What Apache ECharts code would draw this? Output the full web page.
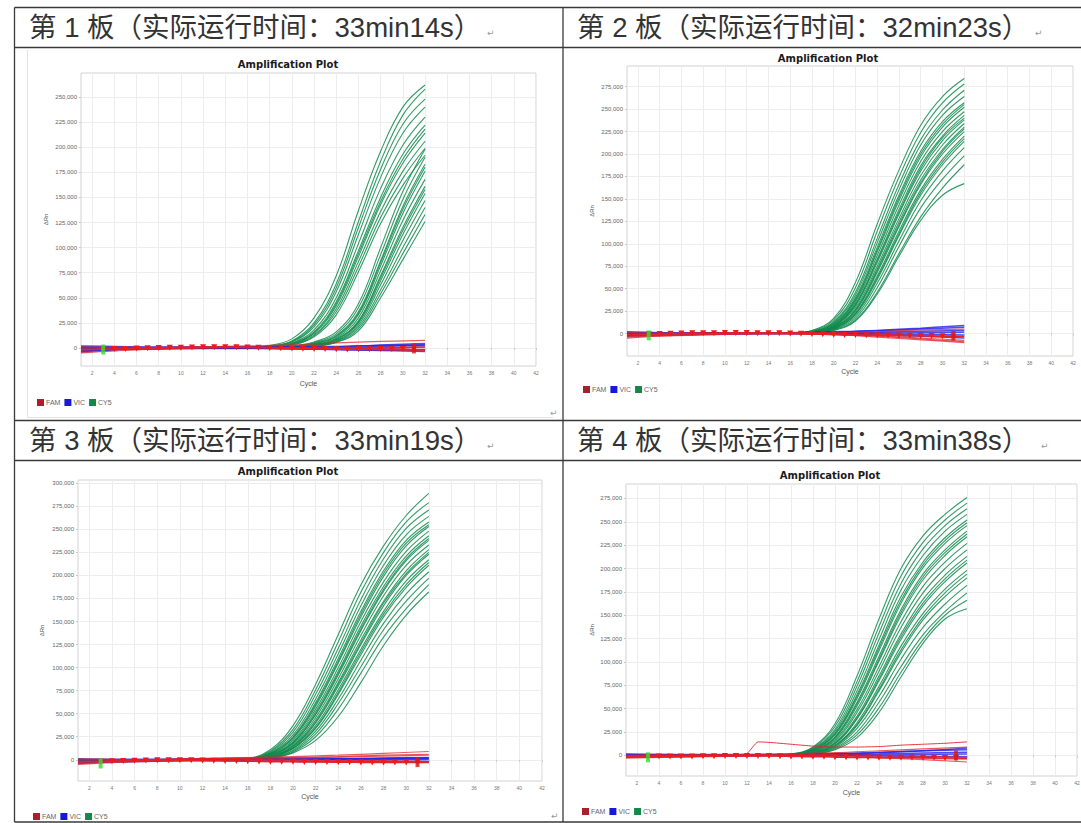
<!DOCTYPE html>
<html><head><meta charset="utf-8">
<script src="https://cdn.jsdelivr.net/npm/echarts@6/dist/echarts.min.js"></script>
<style>html,body{margin:0;padding:0;background:#fff}#c{width:1081px;height:823px}</style>
</head><body><div id="c"></div>
<script>
// ---------------- DATA (ΔRn values in thousands) ----------------
const HEADERS = ['第 1 板（实际运行时间：33min14s）', '第 2 板（实际运行时间：32min23s）', '第 3 板（实际运行时间：33min19s）', '第 4 板（实际运行时间：33min38s）'];
const PLOT_TITLE = 'Amplification Plot';
const X_NAME = 'Cycle';
const Y_NAME = 'ΔRn';
const LEGEND_NAMES = ['FAM', 'VIC', 'CY5'];
const X_TICKS = [2,4,6,8,10,12,14,16,18,20,22,24,26,28,30,32,34,36,38,40,42];
const Y_TICKS_250 = [0,25000,50000,75000,100000,125000,150000,175000,200000,225000,250000];
const Y_TICKS_275 = [0,25000,50000,75000,100000,125000,150000,175000,200000,225000,250000,275000];
const Y_TICKS_300 = [0,25000,50000,75000,100000,125000,150000,175000,200000,225000,250000,275000,300000];

const GREEN_CYCLES = [1,14,16,18,20,22,24,26,28,30,32];
const BASE_CYCLES = [1,4,8,12,16,20,24,28,32];
const MARK_CYCLES = [1,2,3,4,5,6,7,8,9,10,11,12,13,14,15,16,17,18,19,20,21,22,23,24,25,26,27,28,29,30,31,32];

// Plate 1 CY5 (early + late clusters)
const P1_CY5 = [
  [0,0,0.6,2.5,9,30,72,137,196,240,262],
  [0,0,0.5,2,7,25,64,126,186,232,258],
  [0,0,0.45,1.8,6.5,23,60,120,178,223,248],
  [0,0,0.4,1.6,6,21,56,113,170,214,240],
  [0,0,0.3,1.3,5,18,50,104,159,202,230],
  [0,0,0.3,1.2,4.5,16,46,97,150,193,222],
  [0,0,0.25,1.1,4.2,15,44,94,146,188,218],
  [0,0,0.2,1,4,14.5,42,91,143,184,214],
  [0,0,0.2,0.9,3.5,13,39,86,136,176,206],
  [0,0,0.2,0.8,3,12,36,81,130,169,199],
  [0,0,0.1,0.7,2.8,11,33,76,124,162,192],
  [0,0,0,0.5,2,6,16,44,100,156,198],
  [0,0,0,0.4,1.6,5.2,14,40,93,148,190],
  [0,0,0,0.35,1.3,4.5,12.5,36,87,141,183],
  [0,0,0,0.3,1.2,4.2,11.8,34.5,85,138,180],
  [0,0,0,0.3,1.1,4,11,33,82,134,176],
  [0,0,0,0.25,1,3.5,10,30,77,127,168],
  [0,0,0,0.2,0.8,3,9,27,72,120,161],
  [0,0,0,0.2,0.75,2.8,8.5,26,70,117,158],
  [0,0,0,0.2,0.7,2.7,8,25,67,113,154],
  [0,0,0,0.15,0.6,2.4,7.2,23,63,107,147],
  [0,0,0,0.1,0.5,2,6.5,21,58,100,140],
  [0,0,0,0.1,0.4,1.8,6,19,54,94,133],
  [0,0,0,0.1,0.4,1.6,5.5,17,50,88,126]
];
const P1_FAM = [
  [-2,-1,0,1,2,3,5,6.5,7.5],
  [-5,-3,-1,0,0.5,0,-1,-2,-3],
  [1,0.5,0.5,1,1,0.5,0,0.5,1],
  [-1,-1,-0.5,0,0.5,0,-0.5,-1,-2]
];
const P1_VIC = [
  [-3,-1.5,-0.5,0.5,1,0.5,0,1.5,3],
  [-1,-0.5,0,0.5,0.5,0.5,1,3,4.5],
  [1,0.5,0.5,0.5,0,-0.5,-0.5,0,1],
  [-2,-1,-0.5,0,0,-0.5,-1.5,-2.5,-3.5],
  [2,1.5,1,1,1,1,1.5,2.5,3],
  [-4,-2,-1,-0.5,-0.5,-1,-1.5,-2,-2]
];
const P1_MARK = [-1.5,-1.5,-1.2,-1,-1,-0.5,-0.3,0,0.2,0.3,0.5,0.6,0.8,0.8,0.6,0.4,0.2,0,-0.3,-0.6,-0.8,-1,-1.1,-1.2,-1.5,-1.3,-1.2,-1.1,-1,-1,-1.5,-1.5];
const P1_START = [3, -1.6];
const P1_END = [31, -0.5];

// Plate 2
const P2_CY5 = [
  [0,0,0.5,3.5,17,57,122,182,232,264,284],
  [0,0,0.5,3,15,51,114,174,224,257,278],
  [0,0,0.4,2.6,13,46,106,166,216,249,271],
  [0,0,0.4,2.3,12,43,101,160,210,243,264],
  [0,0,0.3,2.1,11,40,96,154,203,236,257],
  [0,0,0.3,2,10.5,38,93,151,200,233,255],
  [0,0,0.3,1.9,10,37,91,148,197,230,252],
  [0,0,0.3,1.7,9,35,87,143,192,225,247],
  [0,0,0.2,1.6,8.5,33,83,138,187,220,243],
  [0,0,0.2,1.5,8,32,81,135,184,218,240],
  [0,0,0.2,1.5,8,31,79,133,181,215,238],
  [0,0,0.2,1.4,7.5,29,75,128,176,210,234],
  [0,0,0.2,1.3,7,27,72,124,171,205,230],
  [0,0,0.2,1.2,6.8,26,70,121,168,203,228],
  [0,0,0.2,1.2,6.5,25,68,119,166,200,225],
  [0,0,0.1,1.1,6,23,64,114,160,194,220],
  [0,0,0.1,1,5.8,22,62,111,157,191,217],
  [0,0,0.1,1,5.5,21,60,109,154,188,214],
  [0,0,0.1,0.9,5,19,56,103,148,181,207],
  [0,0,0.1,0.8,4.5,17,51,97,140,172,198],
  [0,0,0.1,0.7,4,15,46,89,130,162,188],
  [0,0,0.1,0.6,3.5,14,44,86,126,154,167]
];
const P2_FAM = [
  [-4,-2.5,-1,0,0,-1,-3,-6,-9],
  [-3,-2,-1,0,0,-1,-2.5,-5,-7.5],
  [1,0.5,0.5,1,1,1,2,4,5],
  [-1,-1,0,0.5,1,0,-1,-2,-3],
  [-5,-3,-1.5,-0.5,0,-1,-4,-7,-10]
];
const P2_VIC = [
  [-2,-1,0,0.5,1,1.5,3,5,7],
  [0,0,0,0.5,1,2,3.5,6,9],
  [1,0.5,0.5,0.5,0.5,1,1.5,2.5,3.5],
  [-1,-0.5,0,0,0,0,0.5,1,1.5],
  [2,1,0.5,0.5,0.5,0,-0.5,-1,-1.5],
  [-3,-2,-1,-0.5,0,-0.5,-1.5,-3,-5]
];
const P2_MARK = [-1,-1,-0.8,-0.5,-0.3,0,0.2,0.3,0.4,0.5,0.5,0.5,0.4,0.3,0.2,0,-0.3,-0.6,-0.9,-1.2,-1.5,-1.7,-1.9,-2,-2.2,-2.3,-2.5,-2.6,-2.8,-3,-3.2,-3.4];
const P2_START = [3, -2];
const P2_END = [31, -2.5];

// Plate 3
const P3_CY5 = [
  [0,0,1.2,11,37,82,136,190,232,265,289],
  [0,0,1,9.5,33,76,128,182,225,258,279],
  [0,0,0.9,8.5,30,71,121,174,218,251,271],
  [0,0,0.8,7.5,27,66,115,167,211,244,264],
  [0,0,0.7,7,25,62,110,161,205,238,258],
  [0,0,0.7,6.8,24,60,107,158,202,235,255],
  [0,0,0.6,6.5,23,58,105,155,199,232,253],
  [0,0,0.6,6,21,55,100,150,193,226,248],
  [0,0,0.5,5.5,19.5,52,96,145,188,221,243],
  [0,0,0.5,5.2,18.5,50,94,142,185,218,240],
  [0,0,0.5,5,18,49,92,140,183,216,238],
  [0,0,0.4,4.5,17,46,88,135,178,211,233],
  [0,0,0.4,4,15.5,43,84,130,172,205,228],
  [0,0,0.4,3.8,14.8,41,82,127,170,202,225],
  [0,0,0.4,3.6,14,40,80,125,167,200,223],
  [0,0,0.3,3.2,13,37,76,120,161,194,217],
  [0,0,0.3,3,12.5,35,73,117,158,190,214],
  [0,0,0.3,2.9,12,34,71,114,155,187,211],
  [0,0,0.3,2.6,10.5,31,66,108,148,180,204],
  [0,0,0.2,2.3,9.5,28,61,101,141,172,197],
  [0,0,0.2,2,8.5,25,55,94,133,164,190],
  [0,0,0.2,1.8,7.5,21,47,84,124,157,182]
];
const P3_FAM = [
  [-4,-2,0,1.5,2.5,3.5,5,7,9],
  [-2,-1,0,1,2,2.5,3.5,5,6],
  [0,0,0.5,1,1.5,2,3,4,5],
  [-5,-3,-1.5,-0.5,0,0,-0.5,-1,-2],
  [1,0.5,0,0,0,-0.5,-1,-1.5,-2]
];
const P3_VIC = [
  [-2,-1,0,1,1.5,1.5,1.5,2,2.5],
  [-3,-2,-1,0,0.5,0.5,0.5,1,1.5],
  [0,0,0,0.5,0.5,0,0,0,0],
  [1,0.5,0.5,0.5,0.5,0.5,1,1.5,2],
  [-4,-2.5,-1.5,-1,-1,-1.5,-2,-2,-2]
];
const P3_MARK = [-2.5,-2.2,-2,-1.5,-1.2,-1,-0.8,-0.5,-0.5,-0.5,-0.6,-0.8,-1,-1.2,-1.4,-1.6,-1.8,-2,-2,-2.2,-2.3,-2.4,-2.5,-2.6,-2.7,-2.8,-2.9,-3,-3,-3,-3,-3];
const P3_START = [3, -4];
const P3_END = [31, -2.5];

// Plate 4
const P4_CY5 = [
  [0,0,1.5,9,34,85,146,200,235,258,276],
  [0,0,1.3,8.2,31,79,138,192,228,252,270],
  [0,0,1.1,7.5,28,74,131,184,221,246,264],
  [0,0,1,6.8,26,69,124,177,214,240,258],
  [0,0,0.9,6.2,24,65,118,170,207,233,252],
  [0,0,0.85,5.9,23,63,115,166,204,230,249],
  [0,0,0.8,5.6,22,61,112,163,201,227,246],
  [0,0,0.7,5,20,57,106,156,194,220,240],
  [0,0,0.65,4.7,19,55,103,153,191,217,237],
  [0,0,0.6,4.5,18.5,53,101,150,188,214,234],
  [0,0,0.6,4,17,49,95,143,181,207,227],
  [0,0,0.5,3.6,15.5,46,90,137,174,200,220],
  [0,0,0.5,3.2,14,42,85,130,167,193,213],
  [0,0,0.4,2.9,12.5,39,80,124,160,186,206],
  [0,0,0.45,3,13,40,82,127,163,189,209],
  [0,0,0.4,2.6,11,35,74,117,152,178,198],
  [0,0,0.35,2.4,10.5,33,71,113,148,174,194],
  [0,0,0.3,2.3,10,32,69,110,145,170,190],
  [0,0,0.3,2,9,29,63,103,137,162,182],
  [0,0,0.3,1.7,8,25,57,95,129,154,174],
  [0,0,0.2,1.5,7,22,51,89,124,150,166],
  [0,0,0.2,1.3,6,19,46,84,120,146,157]
];
const P4_FAM = [
  [-3,-2,-1,0,0,-1,-2.5,-4.5,-7],
  [-1,-0.5,0,0.5,1,1,0,-1,-2],
  [0,0,0.5,1,2,3,5,7,9],
  [-2,-1.5,-1,-0.5,0,-0.5,-1.5,-3,-4]
];
const P4_VIC = [
  [1,1,0.5,0.5,1,1.5,3,5,8],
  [0,0,0,0.5,1,2,3.5,5,6],
  [-1,-1,-0.5,0,0.5,1,1.5,2.5,3.5],
  [1.5,1,1,1,1,0.5,0.5,1,1.5],
  [-2,-1.5,-1,-0.5,0,0,-0.5,-1,-1.5]
];
const P4_OUT_CYCLES = [1,4,8,11,12,13,14,16,18,20,22,24,26,28,30,32];
const P4_OUT_FAM = [0,0.5,0.5,1,2,14.5,14,12,10,9,9,9.5,11,12,13,14.5];
const P4_MARK = [-1.5,-1.5,-1.3,-1,-1,-1,-1,-0.8,-0.8,-0.6,-0.5,-0.5,-0.5,-0.5,-0.8,-1,-1.2,-1.5,-1.5,-1.8,-2,-2.2,-2.2,-2.4,-2.5,-2.5,-2.5,-2.6,-2.6,-2.7,-2.8,-3];
const P4_START = [3, -2];
const P4_END = [31, 0];

// ---------------- LAYOUT / STYLE ----------------
const COLORS = { FAM: '#e0242c', VIC: '#2020e6', CY5: '#0f8a4b', FAM_LEG: '#a8202c', VIC_LEG: '#1818dc', CY5_LEG: '#14884a', START: '#2ee02e', END: '#e01515' };
const PANELS = [
  { grid:{left:81,top:73,width:455,height:293}, yMin:-18000, yMax:274000, yTicks:Y_TICKS_250, title:[288,64], legend:[37,399], xGap:13.5, yGap:32,
    cy5:P1_CY5, fam:P1_FAM, vic:P1_VIC, mark:P1_MARK, start:P1_START, end:P1_END },
  { grid:{left:627,top:66,width:446,height:290}, yMin:-25000, yMax:298000, yTicks:Y_TICKS_275, title:[828,58], legend:[583,386], xGap:11.5, yGap:32,
    cy5:P2_CY5, fam:P2_FAM, vic:P2_VIC, mark:P2_MARK, start:P2_START, end:P2_END },
  { grid:{left:78,top:480,width:464,height:301}, yMin:-23000, yMax:303500, yTicks:Y_TICKS_300, title:[288,471], legend:[33,813], xGap:11.5, yGap:33,
    cy5:P3_CY5, fam:P3_FAM, vic:P3_VIC, mark:P3_MARK, start:P3_START, end:P3_END },
  { grid:{left:626,top:484,width:451,height:292}, yMin:-22000, yMax:290500, yTicks:Y_TICKS_275, title:[830,475], legend:[582,808], xGap:12.5, yGap:31,
    cy5:P4_CY5, fam:P4_FAM, vic:P4_VIC, mark:P4_MARK, start:P4_START, end:P4_END,
    outCycles:P4_OUT_CYCLES, out:P4_OUT_FAM }
];
const HEADER_POS = [[29,27],[577,27],[29,440],[577,440]];
const PARA_POS = [[487,33],[1035,33],[487,446],[1041,446],[550,413],[551,816]];

const K = 1000;
function lineSeries(i, name, cycles, vals, color, width, z, opacity) {
  return { type:'line', name, xAxisIndex:i, yAxisIndex:i,
    data: cycles.map((c,k)=>[c, vals[k]*K]),
    symbol:'none', smooth:0.4,
    lineStyle:{color, width, opacity}, itemStyle:{color}, z, silent:true, animation:false };
}

const grids=[], xAxes=[], yAxes=[], series=[], legends=[], graphics=[];
PANELS.forEach((p,i)=>{
  grids.push(Object.assign({show:true, borderColor:'#d2d2d2', borderWidth:1, backgroundColor:'#fff', containLabel:false, outerBoundsMode:'none'}, p.grid));
  xAxes.push({ type:'value', gridIndex:i, min:1, max:42,
    name:X_NAME, nameLocation:'middle', nameGap:p.xGap,
    nameTextStyle:{fontSize:7, color:'#555', fontFamily:'Liberation Sans'},
    axisLine:{show:false},
    axisTick:{show:true, customValues:X_TICKS, length:2, lineStyle:{color:'#c8c8c8'}},
    axisLabel:{customValues:X_TICKS, fontSize:5, color:'#777', margin:4, fontFamily:'Liberation Sans'},
    splitLine:{show:true, lineStyle:{color:'#ededed', width:1}} });
  yAxes.push({ type:'value', gridIndex:i, min:p.yMin, max:p.yMax,
    name:Y_NAME, nameLocation:'middle', nameGap:p.yGap, nameRotate:90,
    nameTextStyle:{fontSize:6, color:'#555', fontFamily:'Liberation Sans'},
    axisLine:{show:false},
    axisTick:{show:true, customValues:p.yTicks, length:2, lineStyle:{color:'#c8c8c8'}},
    axisLabel:{customValues:p.yTicks, fontSize:6, color:'#666', margin:4, fontFamily:'Liberation Sans',
      formatter:v=>Number(v).toLocaleString('en-US')},
    splitLine:{show:true, lineStyle:{color:'#ededed', width:1}} });

  p.cy5.forEach(v=>series.push(lineSeries(i,'CY5',GREEN_CYCLES,v,COLORS.CY5,1.1,2,0.85)));
  p.vic.forEach(v=>series.push(lineSeries(i,'VIC',BASE_CYCLES,v,COLORS.VIC,1.5,3,0.8)));
  p.fam.forEach(v=>series.push(lineSeries(i,'FAM',BASE_CYCLES,v,COLORS.FAM,1.2,4,0.75)));
  if (p.out) series.push(Object.assign(lineSeries(i,'FAM',p.outCycles,p.out,COLORS.FAM,1,4,0.9),{smooth:0.15}));
  // red marker curve
  series.push({ type:'line', name:'FAM', xAxisIndex:i, yAxisIndex:i,
    data: MARK_CYCLES.map((c,k)=>({value:[c, p.mark[k]*K], symbol:(c>=3&&c<=31)?'triangle':'none'})),
    symbolSize:[6,6], symbolRotate:180, showSymbol:true, showAllSymbol:true, smooth:0.3,
    lineStyle:{color:COLORS.FAM, width:1.5}, itemStyle:{color:'#f01818'}, z:5, silent:true, animation:false });
  // baseline start / end markers
  series.push({ type:'scatter', name:'start', xAxisIndex:i, yAxisIndex:i, data:[[p.start[0], p.start[1]*K]],
    symbol:'rect', symbolSize:[4,10], itemStyle:{color:COLORS.START}, z:6, silent:true, animation:false });
  series.push({ type:'scatter', name:'end', xAxisIndex:i, yAxisIndex:i, data:[[p.end[0], p.end[1]*K]],
    symbol:'rect', symbolSize:[4,10], itemStyle:{color:COLORS.END}, z:6, silent:true, animation:false });

  legends.push({ left:p.legend[0], top:p.legend[1], orient:'horizontal', icon:'rect', itemWidth:7, itemHeight:7, itemGap:4,
    selectedMode:false, padding:0,
    textStyle:{fontSize:7, color:'#666', fontFamily:'Liberation Sans', padding:[0,0,0,-3]},
    data: LEGEND_NAMES.map(n=>({name:n, itemStyle:{color:COLORS[n+'_LEG']}})) });

  graphics.push({ type:'text', x:p.title[0], y:p.title[1], silent:true,
    style:{ text:PLOT_TITLE, fill:'#1a1a1a', font:'bold 10px "DejaVu Sans"', align:'center', verticalAlign:'middle' } });
});

// table
const LINE = '#3a3a3a';
[[14.5,7.5,1081,7.5],[14.5,47.5,1081,47.5],[14.5,420.5,1081,420.5],[14.5,460.5,1081,460.5],[14.5,822,1081,822],
 [14.5,7.5,14.5,822],[563,7.5,563,822]].forEach(l=>graphics.push({type:'line', silent:true,
  shape:{x1:l[0],y1:l[1],x2:l[2],y2:l[3]}, style:{stroke:LINE, lineWidth:1.3}}));
// faint image frame of plate 1
graphics.push({type:'polyline', silent:true, shape:{points:[[27.5,50],[27.5,417.5],[553,417.5]]}, style:{stroke:'#e3e3e3', lineWidth:1, fill:null}});

HEADERS.forEach((h,i)=>graphics.push({ type:'text', x:HEADER_POS[i][0], y:HEADER_POS[i][1], silent:true,
  style:{ text:h, fill:'#333', font:'27.5px "Liberation Sans", "Noto Sans CJK SC"', align:'left', verticalAlign:'middle' } }));
PARA_POS.forEach(pp=>graphics.push({ type:'text', x:pp[0], y:pp[1], silent:true,
  style:{ text:'↵', fill:'#9a9a9a', font:'9px "DejaVu Sans"', align:'left', verticalAlign:'middle' } }));

const chart = echarts.init(document.getElementById('c'), null, {renderer:'svg'});
chart.setOption({ animation:false, backgroundColor:'#fff', grid:grids, xAxis:xAxes, yAxis:yAxes, legend:legends, series, graphic:graphics });
</script></body></html>
